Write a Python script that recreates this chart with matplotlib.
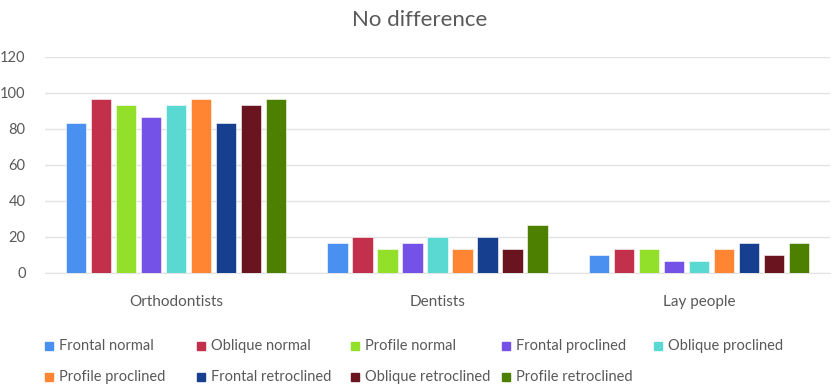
import numpy as np
import matplotlib.pyplot as plt
from matplotlib.patches import Rectangle

plt.rcParams['font.family'] = ['Lato', 'DejaVu Sans']

groups = ['Orthodontists', 'Dentists', 'Lay people']
series = ['Frontal normal', 'Oblique normal', 'Profile normal', 'Frontal proclined',
          'Oblique proclined', 'Profile proclined', 'Frontal retroclined',
          'Oblique retroclined', 'Profile retroclined']
# values per series: Orthodontists, Dentists, Lay people
values = [
    [83.3, 16.7, 10.0],
    [96.7, 20.0, 13.3],
    [93.3, 13.3, 13.3],
    [86.7, 16.7, 6.7],
    [93.3, 20.0, 6.7],
    [96.7, 13.3, 13.3],
    [83.3, 20.0, 16.7],
    [93.3, 13.3, 10.0],
    [96.7, 26.7, 16.7],
]
colors = ['#4A90F0', '#C3304B', '#93E02A', '#7452E8', '#5AD8D2',
          '#FF8533', '#163F8F', '#6A1420', '#4E8000']
yticks = [0, 20, 40, 60, 80, 100, 120]

W, H = 839, 388
fig = plt.figure(figsize=(W / 100, H / 100), dpi=100)
ax = fig.add_axes([45 / W, (H - 273) / H, (830 - 45) / W, (273 - 57) / H])

x = np.arange(len(groups))
n = len(series)
step = 0.0955
bw = 0.077
for i, (name, vals) in enumerate(zip(series, values)):
    ax.bar(x + (i - (n - 1) / 2) * step, vals, bw, color=colors[i],
           edgecolor='white', linewidth=0.4, label=name, zorder=3)

ax.set_xlim(-0.5, len(groups) - 0.5)
ax.set_ylim(0, 120)
ax.set_yticks(yticks)
ax.set_xticks(x)
ax.set_xticklabels(groups)
ax.grid(axis='y', color='#E3E3E3', linewidth=1, zorder=0)
for s in ['top', 'right', 'left']:
    ax.spines[s].set_visible(False)
ax.spines['bottom'].set_color('#E3E3E3')
ax.tick_params(axis='both', length=0, labelsize=10.5, colors='#595959')
ax.tick_params(axis='x', labelsize=11, pad=16)
ax.tick_params(axis='y', pad=14)

fig.text(0.5, 1 - 20 / H, 'No difference', ha='center', va='center',
         fontsize=16, color='#595959')

# legend laid out like the original, evenly spaced columns
col_x = [49, 201, 355, 506, 658]
row_y = [346, 377]
for i, name in enumerate(series):
    cx = col_x[i % 5]
    cy = row_y[i // 5]
    fig.add_artist(Rectangle(((cx - 4) / W, (H - cy - 4) / H), 8 / W, 8 / H,
                             transform=fig.transFigure, color=colors[i]))
    fig.text((cx + 10) / W, (H - cy) / H, name, ha='left', va='center',
             fontsize=10.5, color='#595959')

fig.savefig('out.png', dpi=100)
